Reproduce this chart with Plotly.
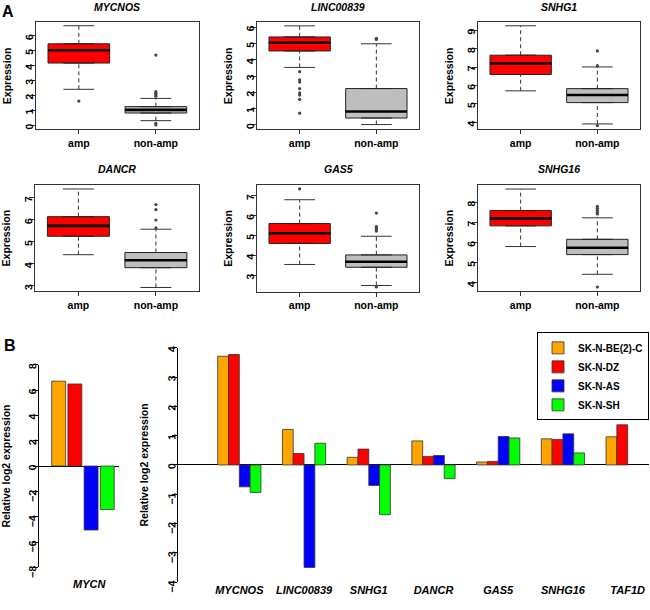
import plotly.graph_objects as go

W, H = 650, 610
FONT = "Liberation Sans, Arial, sans-serif"

# ---------------- Panel A data (box plot summaries) ----------------
box_genes = ["MYCNOS", "LINC00839", "SNHG1", "DANCR", "GAS5", "SNHG16"]
box_groups = ["amp", "non-amp"]

amp_lower = [2.41, 3.53, 5.71, 4.41, 3.54, 5.80]
amp_q1 = [4.17, 4.54, 6.60, 5.25, 4.60, 6.83]
amp_median = [5.03, 5.04, 7.20, 5.72, 5.11, 7.20]
amp_q3 = [5.46, 5.40, 7.65, 6.14, 5.60, 7.59]
amp_upper = [6.67, 6.08, 9.25, 7.40, 6.80, 8.66]
amp_outliers = [[1.62],
                [3.27, 2.77, 2.63, 2.23, 1.96, 1.83, 1.57, 0.72],
                [], [], [7.35], []]

non_lower = [0.31, 0.02, 3.91, 2.92, 2.48, 4.42]
non_q1 = [0.82, 0.42, 5.07, 3.82, 3.40, 5.40]
non_median = [1.03, 0.82, 5.48, 4.16, 3.68, 5.74]
non_q3 = [1.25, 2.23, 5.83, 4.51, 4.02, 6.16]
non_upper = [1.80, 4.98, 7.01, 5.57, 4.96, 7.23]
non_outliers = [[4.70, 2.25, 2.15, 2.05, 1.95, 0.12, 0.02],
                [5.32, 5.25],
                [7.88, 7.08, 3.82],
                [6.69, 6.46, 5.99, 5.63],
                [6.13, 5.45, 5.38, 5.30, 5.22, 2.41],
                [7.80, 7.70, 7.60, 7.50, 7.42, 3.79]]

# ---------------- Panel B data (relative log2 expression) ----------------
cell_lines = ["SK-N-BE(2)-C", "SK-N-DZ", "SK-N-AS", "SK-N-SH"]
mycn_gene = ["MYCN"]
mycn_values = [6.70, 6.48, -5.05, -3.44]
bar_genes = ["MYCNOS", "LINC00839", "SNHG1", "DANCR", "GAS5", "SNHG16", "TAF1D"]
be2c_values = [3.71, 1.21, 0.26, 0.82, 0.10, 0.89, 0.96]
dz_values = [3.77, 0.39, 0.54, 0.29, 0.12, 0.87, 1.37]
as_values = [-0.75, -3.50, -0.70, 0.32, 0.97, 1.06, None]
sh_values = [-0.94, 0.74, -1.70, -0.47, 0.92, 0.41, None]

# ---------------- styling / layout ----------------
line_colors = ["#FFA500", "#FF0000", "#0000FF", "#00FF00"]
box_fill = ["#FF0000", "#BEBEBE"]
DARK = "#222222"
YANG = -91  # vertical (bottom-to-top) y tick labels


def xd(l, r):
    return [l / W, r / W]


def yd(top, bottom):
    return [1 - bottom / H, 1 - top / H]


box_pos = [(35.7, 199, 20.7, 130), (256.7, 419.3, 20.7, 130), (477.7, 640.3, 20.7, 130),
           (35, 199.3, 186.7, 295), (256.7, 419.3, 186.7, 295.7), (477.7, 640.3, 186.7, 295)]
box_yrange = [[-0.28, 6.9], [-0.28, 6.3], [3.61, 9.44], [2.75, 7.58], [2.16, 7.54], [3.58, 8.86]]
title_y = [5, 5, 5, 170.3, 170.3, 170.3]

fig = go.Figure()
layout = dict(width=W, height=H, margin=dict(l=0, r=0, t=0, b=0),
              paper_bgcolor="white", plot_bgcolor="white",
              font=dict(family=FONT, color="black", size=10.5),
              barmode="overlay", showlegend=True)
annotations = []

BW = 0.8
for i, g in enumerate(box_genes):
    n = "" if i == 0 else str(i + 1)
    xa, ya = "x" + n, "y" + n
    stats = [
        (amp_lower[i], amp_q1[i], amp_median[i], amp_q3[i], amp_upper[i], amp_outliers[i]),
        (non_lower[i], non_q1[i], non_median[i], non_q3[i], non_upper[i], non_outliers[i]),
    ]
    for j, (lo, q1, md, q3, up, outs) in enumerate(stats):
        p = j + 1
        fig.add_trace(go.Scatter(x=[p, p, None, p, p], y=[lo, q1, None, q3, up],
                                 mode="lines", line=dict(color="#333333", width=1, dash="4px,3px"),
                                 xaxis=xa, yaxis=ya, showlegend=False, hoverinfo="skip"))
        fig.add_trace(go.Scatter(x=[p - BW / 4, p + BW / 4, None, p - BW / 4, p + BW / 4],
                                 y=[lo, lo, None, up, up],
                                 mode="lines", line=dict(color="#333333", width=1),
                                 xaxis=xa, yaxis=ya, showlegend=False, hoverinfo="skip"))
        fig.add_trace(go.Box(x=[p], q1=[q1], median=[md], q3=[q3], lowerfence=[q1], upperfence=[q3],
                             width=BW, fillcolor=box_fill[j], line=dict(color=DARK, width=1),
                             boxpoints=False, xaxis=xa, yaxis=ya, showlegend=False, name=box_groups[j]))
        fig.add_trace(go.Scatter(x=[p - BW / 2, p + BW / 2], y=[md, md], mode="lines",
                                 line=dict(color="black", width=2.6),
                                 xaxis=xa, yaxis=ya, showlegend=False, hoverinfo="skip"))
        if outs:
            fig.add_trace(go.Scatter(x=[p] * len(outs), y=outs, mode="markers",
                                     marker=dict(color="#444444", size=3.2),
                                     xaxis=xa, yaxis=ya, showlegend=False))
    l, r, t, b = box_pos[i]
    layout["xaxis" + n] = dict(domain=xd(l, r), anchor=ya, range=[0.44, 2.56],
                               tickvals=[1, 2], ticktext=box_groups, ticks="outside", ticklen=4,
                               tickcolor="#333333", showline=True, mirror=True, linecolor="#333333",
                               linewidth=1, showgrid=False, zeroline=False,
                               tickfont=dict(size=10.5, weight="bold"))
    layout["yaxis" + n] = dict(domain=yd(t, b), anchor=xa, range=box_yrange[i], dtick=1,
                               ticks="outside", ticklen=5, tickcolor="#333333", tickangle=YANG,
                               showline=True, mirror=True, linecolor="#333333", linewidth=1,
                               showgrid=False, zeroline=False,
                               tickfont=dict(size=10.5, weight="bold"),
                               title=dict(text="Expression", font=dict(size=10.5, weight="bold"),
                                          standoff=9))
    annotations.append(dict(text="<b><i>%s</i></b>" % g, x=((l + r) / 2) / W, y=1 - title_y[i] / H,
                            xref="paper", yref="paper", showarrow=False, xanchor="center",
                            yanchor="middle", font=dict(size=10.5)))

# ---------------- Panel B: MYCN ----------------
bw_l = 0.174
pitch_l = 0.2025
for k, cl in enumerate(cell_lines):
    fig.add_trace(go.Bar(x=[0], y=[mycn_values[k]], width=bw_l, offset=-0.395 + k * pitch_l,
                         marker=dict(color=line_colors[k], line=dict(color="#333333", width=0.8)),
                         xaxis="x7", yaxis="y7", name=cl, legendgroup=cl, showlegend=False))
layout["xaxis7"] = dict(domain=xd(39, 119), anchor="y7", range=[-0.554, 0.446],
                        showline=False, showticklabels=False, ticks="", showgrid=False, zeroline=False)
layout["yaxis7"] = dict(domain=yd(370, 576.7), anchor="x7", range=[-8, 8], dtick=2,
                        ticks="outside", ticklen=5, tickcolor="black", tickangle=YANG,
                        showline=True, linecolor="black", linewidth=1, showgrid=False,
                        zeroline=True, zerolinecolor="black", zerolinewidth=1,
                        tickfont=dict(size=10.5, weight="bold"),
                        title=dict(text="Relative log2 expression", font=dict(size=10.5, weight="bold"),
                                   standoff=13))
annotations.append(dict(text="<b><i>%s</i></b>" % mycn_gene[0], x=70.7 / W, y=1 - 601.7 / H,
                        xref="paper", yref="paper", showarrow=False, font=dict(size=11)))

# ---------------- Panel B: lncRNAs ----------------
bw_r = 0.167
series = [be2c_values, dz_values, as_values, sh_values]
for k, cl in enumerate(cell_lines):
    fig.add_trace(go.Bar(x=bar_genes, y=series[k], width=bw_r, offset=(k - 2) * bw_r,
                         marker=dict(color=line_colors[k], line=dict(color="#333333", width=0.8)),
                         xaxis="x8", yaxis="y8", name=cl, legendgroup=cl))
layout["xaxis8"] = dict(domain=xd(178.3, 649), anchor="y8", type="category",
                        categoryarray=bar_genes, range=[-0.943, 6.33],
                        showline=False, ticks="", showgrid=False, zeroline=False,
                        tickfont=dict(size=11, weight="bold", style="italic"))
layout["yaxis8"] = dict(domain=yd(352.7, 591.7), anchor="x8", range=[-4, 4], dtick=1,
                        ticks="outside", ticklen=5, tickcolor="black", tickangle=YANG,
                        showline=True, linecolor="black", linewidth=1, showgrid=False,
                        zeroline=True, zerolinecolor="black", zerolinewidth=1,
                        tickfont=dict(size=10.5, weight="bold"),
                        title=dict(text="Relative log2 expression", font=dict(size=10.5, weight="bold"),
                                   standoff=14))

layout["legend"] = dict(x=649 / W, xanchor="right", y=1 - 337 / H, yanchor="top",
                        bordercolor="black", borderwidth=1, bgcolor="rgba(255,255,255,0)",
                        font=dict(size=10, weight="bold"), tracegroupgap=0, itemwidth=30)

annotations.append(dict(text="<b>A</b>", x=0, y=1 + 1 / H, xref="paper", yref="paper",
                        xanchor="left", yanchor="top", showarrow=False, font=dict(size=16)))
annotations.append(dict(text="<b>B</b>", x=2 / W, y=1 - 340 / H, xref="paper", yref="paper",
                        xanchor="left", yanchor="top", showarrow=False, font=dict(size=16)))

layout["annotations"] = annotations
fig.update_layout(**layout)
fig.write_html("out.html", config={"displayModeBar": False},
               post_script="document.body.style.margin='0';document.body.style.overflow='hidden';")
